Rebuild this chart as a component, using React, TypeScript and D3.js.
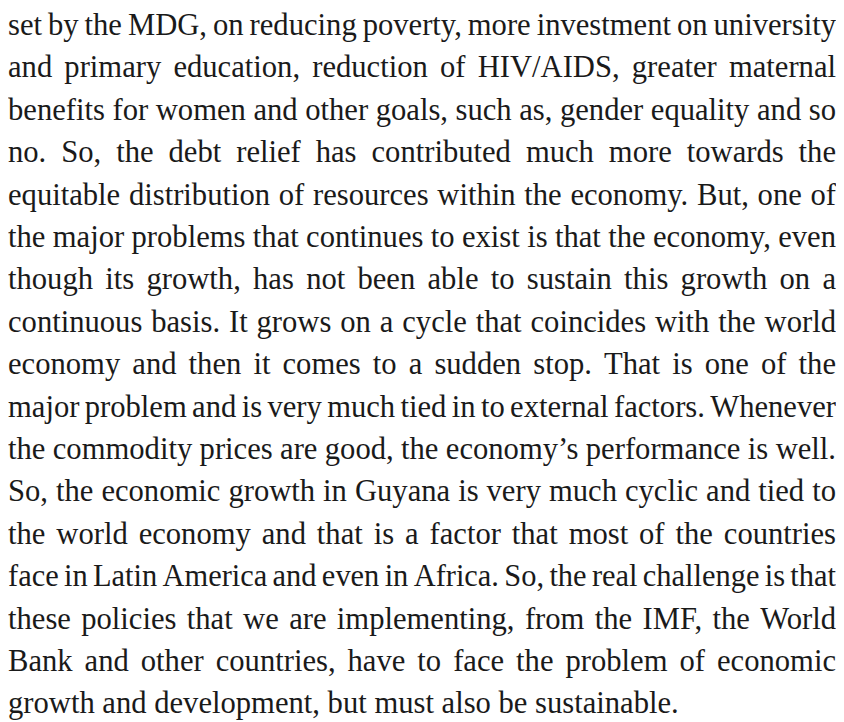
import React, { useMemo } from 'react';
import * as d3 from 'd3';

// Text lines, as set in the reference (justified, last line ragged)
const lines: string[] = [
  'set by the MDG, on reducing poverty, more investment on university',
  'and primary education, reduction of HIV/AIDS, greater maternal',
  'benefits for women and other goals, such as, gender equality and so',
  'no. So, the debt relief has contributed much more towards the',
  'equitable distribution of resources within the economy. But, one of',
  'the major problems that continues to exist is that the economy, even',
  'though its growth, has not been able to sustain this growth on a',
  'continuous basis. It grows on a cycle that coincides with the world',
  'economy and then it comes to a sudden stop. That is one of the',
  'major problem and is very much tied in to external factors. Whenever',
  'the commodity prices are good, the economy\u2019s performance is well.',
  'So, the economic growth in Guyana is very much cyclic and tied to',
  'the world economy and that is a factor that most of the countries',
  'face in Latin America and even in Africa. So, the real challenge is that',
  'these policies that we are implementing, from the IMF, the World',
  'Bank and other countries, have to face the problem of economic',
  'growth and development, but must also be sustainable.',
];

const WIDTH = 828;
const HEIGHT = 714;
const FONT = '"Liberation Serif", "Times New Roman", serif';
const LAST_LINE_W = 671; // width of the ragged last line in the reference

function measurer(size: number) {
  const ctx = document.createElement('canvas').getContext('2d')!;
  ctx.font = `${size}px ${FONT}`;
  return (s: string) => ctx.measureText(s).width;
}

export default function App() {
  const layout = useMemo(() => {
    // size the type so the last (unjustified) line runs as long as in the reference
    const m0 = measurer(100);
    const size = Math.min(32, (LAST_LINE_W / m0(lines[lines.length - 1])) * 100);
    const m = measurer(size);
    const spaceW = m(' ');
    const minGap = spaceW * 0.7;

    const y = d3.scaleLinear().domain([0, lines.length - 1]).range([27, 27 + 42.4 * (lines.length - 1)]);

    const rows = lines.map((line, i) => {
      const parts = line.split(' ');
      const widths = parts.map(p => m(p));
      const last = i === lines.length - 1;
      const ink = d3.sum(widths);
      let gap = last ? spaceW : (WIDTH - ink) / (parts.length - 1);
      let sx = 1;
      if (!last && gap < minGap) {
        // too long at this size: keep a minimum gap and squeeze the line a little
        gap = minGap;
        sx = WIDTH / (ink + gap * (parts.length - 1));
      }
      const starts = d3.cumsum([0, ...widths.slice(0, -1).map(w => w + gap)]);
      return {
        key: i,
        sx,
        y: y(i),
        words: parts.map((p, j) => ({ text: p, x: starts[j] })),
      };
    });
    return { size, rows };
  }, []);

  return (
    <svg width={WIDTH} height={HEIGHT} style={{ display: 'block', background: '#fff' }}>
      <g fontFamily={FONT} fontSize={layout.size} fill="#1a1a1a">
        {layout.rows.map(r => (
          <g key={r.key} transform={`translate(0,${r.y}) scale(${r.sx},1)`}>
            {r.words.map((w, j) => (
              <text key={j} x={w.x} y={0}>{w.text}</text>
            ))}
          </g>
        ))}
      </g>
    </svg>
  );
}
